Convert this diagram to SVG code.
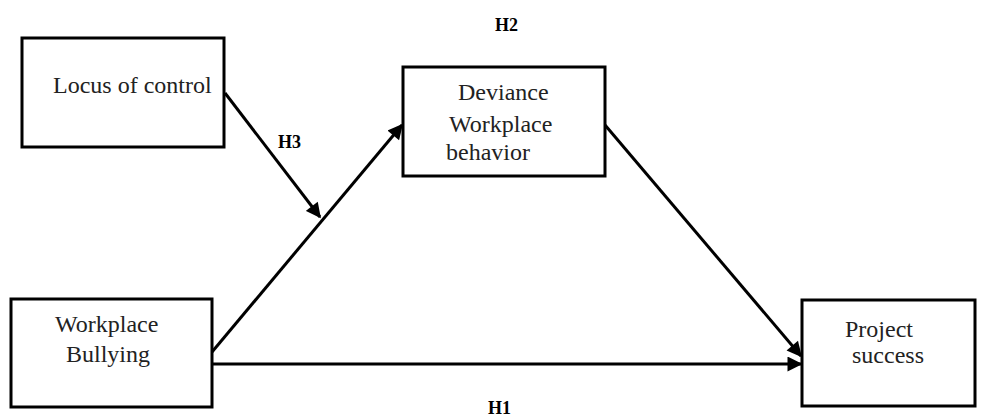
<svg xmlns="http://www.w3.org/2000/svg" width="993" height="419" viewBox="0 0 993 419">
<style>
.box{fill:#fff;stroke:#000;stroke-width:3}
.t{font-family:"Liberation Serif","Times New Roman",serif;font-size:24px;fill:#222}
.h{font-family:"Liberation Serif","Times New Roman",serif;font-size:18px;font-weight:bold;fill:#000}
.c{stroke:#000;stroke-width:3;fill:none;marker-end:url(#ah)}
</style>
<defs>
<marker id="ah" viewBox="0 0 10 10" refX="9" refY="5" markerWidth="5.5" markerHeight="5" markerUnits="strokeWidth" orient="auto">
<path d="M0,0 L10,5 L0,10 Z" fill="#000"/>
</marker>
</defs>
<rect width="993" height="419" fill="#fff"/>
<g id="locus">
<rect class="box" x="22" y="38" width="202" height="109"/>
<text class="t" x="53" y="93">Locus of control</text>
</g>
<g id="deviance">
<rect class="box" x="403" y="67" width="202" height="109"/>
<text class="t" x="458" y="100">Deviance</text>
<text class="t" x="449" y="132">Workplace</text>
<text class="t" x="446" y="160">behavior</text>
</g>
<g id="bullying">
<rect class="box" x="11" y="299" width="201" height="108"/>
<text class="t" x="55" y="332">Workplace</text>
<text class="t" x="66" y="362">Bullying</text>
</g>
<g id="project">
<rect class="box" x="802" y="300" width="173" height="106"/>
<text class="t" x="845" y="337">Project</text>
<text class="t" x="852" y="363">success</text>
</g>
<g id="connectors">
<line class="c" x1="225" y1="93" x2="320" y2="217"/>
<line class="c" x1="212" y1="352" x2="402" y2="125"/>
<line class="c" x1="212" y1="364" x2="801" y2="364"/>
<line class="c" x1="605" y1="125" x2="801" y2="356"/>
</g>
<g id="labels">
<text class="h" x="495" y="31">H2</text>
<text class="h" x="278" y="148">H3</text>
<text class="h" x="488" y="414">H1</text>
</g>
</svg>
